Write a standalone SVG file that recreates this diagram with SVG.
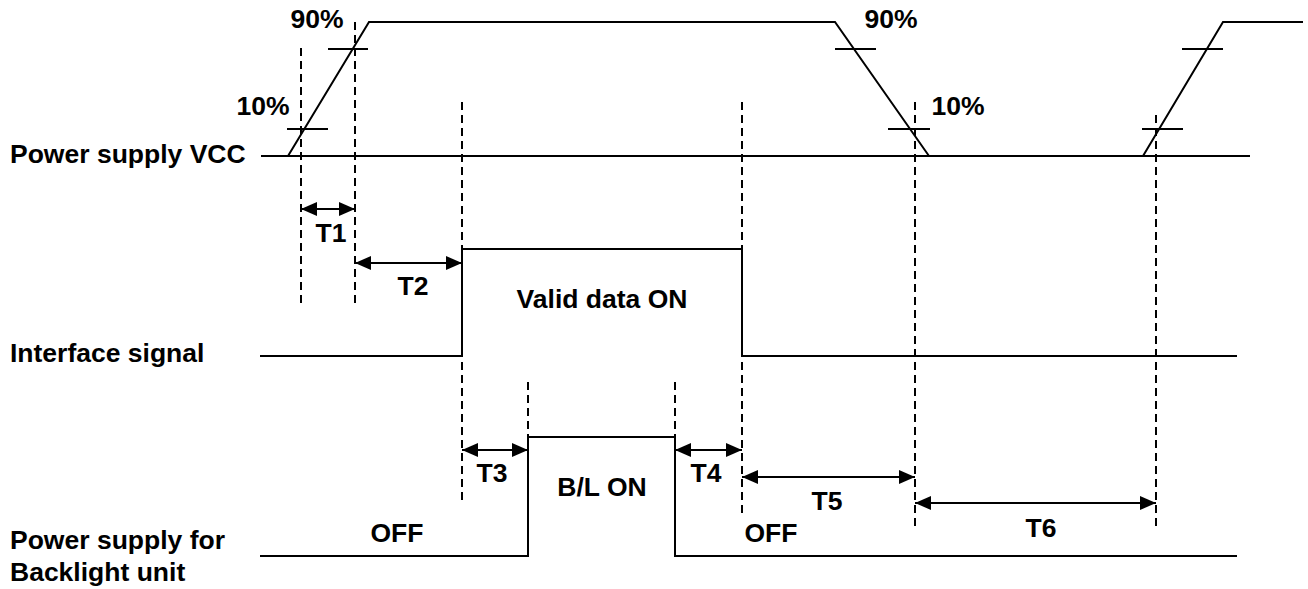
<svg xmlns="http://www.w3.org/2000/svg" width="1308" height="589" viewBox="0 0 1308 589">
<style>
  .sig { fill: none; stroke: #000; stroke-width: 2; stroke-linejoin: miter; }
  .tick { stroke: #000; stroke-width: 2; }
  .dash { stroke: #000; stroke-width: 2; stroke-dasharray: 8 5; }
  .dim { stroke: #000; stroke-width: 2; marker-start: url(#ah); marker-end: url(#ah); }
  text { font-family: "Liberation Sans", Arial, sans-serif; font-weight: bold; font-size: 26.5px; fill: #000; }
  .mid { text-anchor: middle; }
</style>
<defs>
  <marker id="ah" viewBox="0 0 16 14" refX="16" refY="7" markerWidth="16" markerHeight="14" markerUnits="userSpaceOnUse" orient="auto-start-reverse">
    <path d="M0,0 L16,7 L0,14 Z" fill="#000"/>
  </marker>
</defs>
<rect width="1308" height="589" fill="#fff"/>

<g id="vcc">
  <text x="10" y="163">Power supply VCC</text>
  <line class="sig" x1="261" y1="156" x2="1250" y2="156"/>
  <polyline class="sig" points="288,156 369,22 835,22 929,156"/>
  <polyline class="sig" points="1143,156 1223,22 1303,22"/>
  <line class="tick" x1="287" y1="129" x2="328" y2="129"/>
  <line class="tick" x1="328" y1="49" x2="368" y2="49"/>
  <line class="tick" x1="835" y1="49" x2="876" y2="49"/>
  <line class="tick" x1="888" y1="129" x2="930" y2="129"/>
  <line class="tick" x1="1182" y1="49" x2="1223" y2="49"/>
  <line class="tick" x1="1142" y1="129" x2="1183" y2="129"/>
  <text class="mid" x="317" y="28">90%</text>
  <text class="mid" x="263" y="115">10%</text>
  <text class="mid" x="891" y="28">90%</text>
  <text class="mid" x="958" y="115">10%</text>
</g>

<g id="interface">
  <text x="10" y="362">Interface signal</text>
  <polyline class="sig" points="260,356 462,356 462,249 742,249 742,356 1237,356"/>
  <text class="mid" x="602" y="308">Valid data ON</text>
</g>

<g id="backlight">
  <text x="10" y="549">Power supply for</text>
  <text x="10" y="581">Backlight unit</text>
  <polyline class="sig" points="260,556 528,556 528,437 675,437 675,556 1237,556"/>
  <text class="mid" x="602" y="496">B/L ON</text>
  <text class="mid" x="397" y="542">OFF</text>
  <text class="mid" x="771" y="542">OFF</text>
</g>

<g id="guides">
  <line class="dash" x1="301" y1="48" x2="301" y2="303"/>
  <line class="dash" x1="355" y1="22" x2="355" y2="303"/>
  <line class="dash" x1="462" y1="102" x2="462" y2="501"/>
  <line class="dash" x1="528" y1="382" x2="528" y2="437"/>
  <line class="dash" x1="675" y1="382" x2="675" y2="437"/>
  <line class="dash" x1="742" y1="102" x2="742" y2="515"/>
  <line class="dash" x1="915" y1="102" x2="915" y2="529"/>
  <line class="dash" x1="1156" y1="115" x2="1156" y2="528"/>
</g>

<g id="connectors">
  <line class="dim" x1="301" y1="209" x2="355" y2="209"/>
  <line class="dim" x1="355" y1="263" x2="462" y2="263"/>
  <line class="dim" x1="462" y1="450" x2="528" y2="450"/>
  <line class="dim" x1="675" y1="450" x2="742" y2="450"/>
  <line class="dim" x1="742" y1="477" x2="915" y2="477"/>
  <line class="dim" x1="915" y1="503" x2="1156" y2="503"/>
</g>

<g id="labels">
  <text class="mid" x="331" y="242">T1</text>
  <text class="mid" x="413" y="295">T2</text>
  <text class="mid" x="492" y="482">T3</text>
  <text class="mid" x="706" y="482">T4</text>
  <text class="mid" x="827" y="510">T5</text>
  <text class="mid" x="1041" y="537">T6</text>
</g>
</svg>
